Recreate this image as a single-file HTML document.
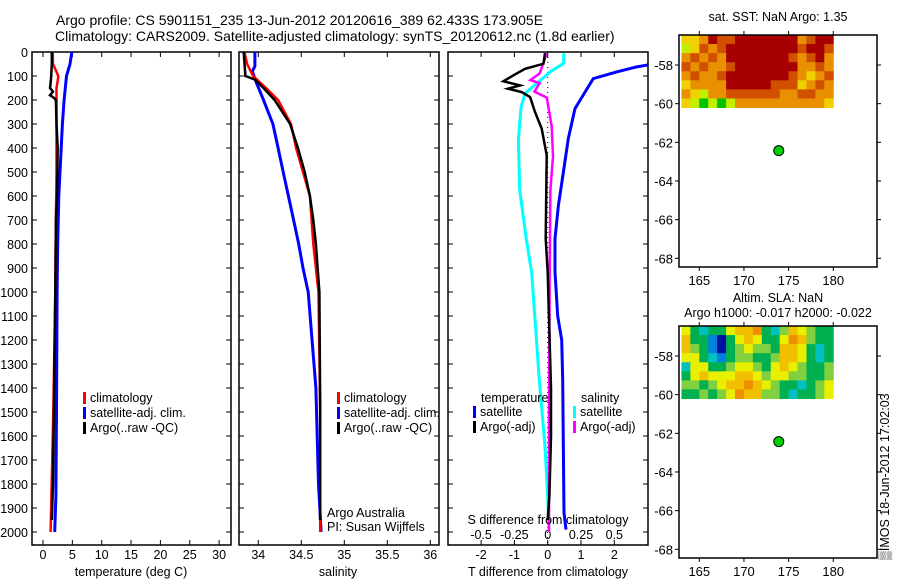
<!DOCTYPE html>
<html><head><meta charset="utf-8"><style>
body{margin:0;background:#fff;}
svg{display:block;font-family:"Liberation Sans",sans-serif;}
text{font-size:12.5px;fill:#000;}
</style></head><body>
<svg id="fig" width="900" height="580" viewBox="0 0 900 580" xmlns="http://www.w3.org/2000/svg">
<text x="56" y="25" style="font-size:14px">Argo profile: CS 5901151_235 13-Jun-2012 20120616_389 62.433S 173.905E</text>
<text x="55" y="41" style="font-size:14px">Climatology: CARS2009. Satellite-adjusted climatology: synTS_20120612.nc (1.8d earlier)</text>
<g id="g"></g>
<text transform="translate(889,560) rotate(-90)" style="font-size:12.5px">▒IMOS 18-Jun-2012 17:02:03</text>
</svg>
<script>
// ---- data ----
const tDepth=[0,50,100,120,150,170,200,300,500,700,1000,1500,2000];
const tClim=[1.65,1.7,2.6,2.5,2.3,2.3,2.3,2.3,2.3,2.2,2.1,1.75,1.3];
const tSatDepth=[0,50,100,200,300,400,600,800,1000,1500,1850,2000];
const tSat=[4.9,4.6,4.0,3.6,3.3,3.1,2.7,2.5,2.4,2.3,2.2,2.0];
const tArgoDepth=[0,50,100,130,150,165,180,190,200,300,400,600,700,1000,1400,1800,1950];
const tArgo=[1.5,1.5,1.4,1.3,1.2,1.7,1.2,1.8,2.2,2.3,2.5,2.4,2.2,2.1,1.9,1.7,1.5];
const sDepth=[0,50,100,150,200,300,400,500,600,800,1000,1500,2000];
const sClim=[33.84,33.87,33.94,34.09,34.23,34.38,34.44,34.52,34.60,34.64,34.70,34.72,34.72];
const sSatDepth=[0,60,80,130,200,300,400,500,600,700,800,900,1000,1400,1800,2000];
const sSat=[33.96,33.96,33.93,33.98,34.06,34.17,34.23,34.29,34.35,34.41,34.47,34.52,34.58,34.67,34.70,34.73];
const sArgoDepth=[0,100,115,150,200,300,400,500,600,700,800,1000,1500,1950];
const sArgo=[33.83,33.85,33.96,34.06,34.19,34.37,34.46,34.54,34.60,34.64,34.67,34.71,34.72,34.72];
const dtSatDepth=[20,55,62,83,111,167,236,361,500,639,778,917,1100,1200,1367,1920,1990];
const dtSat=[3.5,2.97,2.67,2.07,1.37,1.12,0.82,0.62,0.47,0.32,0.22,0.22,0.3,0.42,0.45,0.49,0.55];
const dtArgoDepth=[5,49,70,97,122,139,153,167,188,250,319,430,778,920,1400,1600,1850,1950];
const dtArgo=[-0.08,-0.13,-0.68,-1.03,-1.33,-0.83,-1.19,-0.78,-0.53,-0.38,-0.18,-0.03,-0.06,0,0.1,0.1,0.05,0.0];
const dsSatDepth=[5,47,82,130,172,228,367,575,783,920,1367,1644,1853,1990];
const dsSat=[0.12,0.12,0.02,-0.08,-0.17,-0.2,-0.22,-0.21,-0.16,-0.12,-0.063,-0.02,0,0.01];
const dsArgoDepth=[5,89,117,130,165,190,310,435,575,920,1500,2000];
const dsArgo=[-0.007,-0.06,-0.13,-0.06,-0.1,-0.007,0.03,0.04,0.02,0.015,0.01,0.01];
const depthTicks=[0,100,200,300,400,500,600,700,800,900,1000,1100,1200,1300,1400,1500,1600,1700,1800,1900,2000];
const tempTicks=[0,5,10,15,20,25,30];
const salTicks=[34,34.5,35,35.5,36];
const salTickLabels=["34","34.5","35","35.5","36"];
const dtTicks=[-2,-1,0,1,2];
const dsTicks=[-0.5,-0.25,0,0.25,0.5];
const dsTickLabels=["-0.5","-0.25","0","0.25","0.5"];
const lonTicks=[165,170,175,180];
const latTicks=[-58,-60,-62,-64,-66,-68];
const argoLon=173.9, argoLat=-62.43;
const sstGrid=[
[2,2,3,5,4,4,5,5,5,5,5,5,5,3,4,5,5],
[1,2,4,3,4,5,5,5,5,5,5,5,5,4,5,5,4],
[3,4,3,4,3,5,5,5,5,5,5,5,4,3,4,5,3],
[4,3,4,3,3,4,5,5,5,5,5,5,5,3,3,4,3],
[3,4,3,3,4,5,5,5,5,5,5,5,4,3,2,3,4],
[2,3,3,3,3,5,5,5,5,5,4,4,4,2,3,4,3],
[3,2,1,3,3,4,4,4,4,4,4,3,3,4,4,3,3],
[2,1,0,1,0,1,3,3,3,3,3,3,3,3,3,3,2]];
const slaGrid=[
[5,3,2,3,3,5,6,6,7,3,2,4,6,5,4,3,3],
[6,3,3,1,0,3,5,6,5,3,3,5,7,6,4,3,3],
[6,4,3,1,0,3,4,5,4,4,3,6,6,5,3,2,3],
[5,5,3,2,1,3,4,4,3,3,4,6,6,5,3,2,3],
[2,5,5,3,3,4,5,5,4,3,5,6,5,4,3,3,4],
[3,5,6,5,5,5,6,6,5,4,5,5,4,4,3,3,4],
[4,4,3,4,5,6,6,7,6,5,4,3,3,2,3,4,5],
[3,3,4,3,4,5,7,6,6,4,4,3,2,3,3,4,5]];
const sstColors=["#00c000","#c0f000","#f0d000","#e89000","#d05000","#a80000"];
const slaColors=["#0010a0","#0080e0","#00c0c0","#00b050","#80d040","#e8f000","#f0c000","#f09000"];

// ---- drawing ----
const NS="http://www.w3.org/2000/svg";
const G=document.getElementById('g');
function el(tag,attrs,parent,txt){const e=document.createElementNS(NS,tag);for(const k in attrs)e.setAttribute(k,attrs[k]);if(txt!==undefined)e.textContent=txt;(parent||G).appendChild(e);return e;}
const yD=d=>52+d*0.24;
const xT=v=>43+v*5.87;
const xS=v=>258.3+(v-34)*86;
const xDT=v=>547.7+v*33.3;
const xDS=v=>547.7+v*133.2;
const TOP=52,BOT=545;

function panel(x0,x1,name){
  const r=el('rect',{x:x0,y:TOP,width:x1-x0,height:BOT-TOP,fill:'none',stroke:'#000','stroke-width':1.5});
  
  
  depthTicks.forEach(d=>{el('line',{x1:x0,x2:x0+5,y1:yD(d),y2:yD(d),stroke:'#000'});el('line',{x1:x1,x2:x1-5,y1:yD(d),y2:yD(d),stroke:'#000'});});
}
function clipFor(x0,x1,id){const c=el('clipPath',{id:id});el('rect',{x:x0,y:TOP,width:x1-x0,height:BOT-TOP},c);}
function line(depths,vals,xf,color,name,clip,w){
  let pts=depths.map((d,i)=>xf(vals[i]).toFixed(1)+','+yD(d).toFixed(1)).join(' ');
  const p=el('polyline',{points:pts,fill:'none',stroke:color,'stroke-width':w||2.5,'clip-path':'url(#'+clip+')'});
  
  
}
function legend(x,y,items,prefix){
  items.forEach((it,i)=>{
    el('rect',{x:x,y:y+i*15-10,width:3,height:12,fill:it[1]});
    const t=el('text',{x:x+7,y:y+i*15},G,it[0]);
    
    
  });
}

// Panel 1: temperature
clipFor(32,231,'c1');panel(32,231,'temperature-plot-frame');
depthTicks.forEach(d=>{const t=el('text',{x:28,y:yD(d)+5,'text-anchor':'end'},G,String(d));});
tempTicks.forEach(v=>{el('line',{x1:xT(v),x2:xT(v),y1:TOP,y2:TOP+5,stroke:'#000'});el('line',{x1:xT(v),x2:xT(v),y1:BOT,y2:BOT-5,stroke:'#000'});const t=el('text',{x:xT(v),y:559,'text-anchor':'middle'},G,String(v));});
line(tSatDepth,tSat,xT,'#0000ff','temp-satellite-line','c1',3);
line(tDepth,tClim,xT,'#ff0000','temp-climatology-line','c1');
line(tArgoDepth,tArgo,xT,'#000','temp-argo-line','c1');
legend(83,402,[['climatology','#ff0000'],['satellite-adj. clim.','#0000ff'],['Argo(..raw -QC)','#000']],'temp-legend-entry');
el('text',{x:131,y:576,'text-anchor':'middle',},G,'temperature (deg C)');

// Panel 2: salinity
clipFor(239,439,'c2');panel(239,439,'salinity-plot-frame');
salTicks.forEach((v,i)=>{el('line',{x1:xS(v),x2:xS(v),y1:TOP,y2:TOP+5,stroke:'#000'});el('line',{x1:xS(v),x2:xS(v),y1:BOT,y2:BOT-5,stroke:'#000'});const t=el('text',{x:xS(v),y:559,'text-anchor':'middle'},G,salTickLabels[i]);});
line(sSatDepth,sSat,xS,'#0000ff','sal-satellite-line','c2',3);
line(sDepth,sClim,xS,'#ff0000','sal-climatology-line','c2');
line(sArgoDepth,sArgo,xS,'#000','sal-argo-line','c2');
legend(337,402,[['climatology','#ff0000'],['satellite-adj. clim.','#0000ff'],['Argo(..raw -QC)','#000']],'sal-legend-entry');
el('text',{x:327,y:517,},G,'Argo Australia');
el('text',{x:327,y:531,},G,'PI: Susan Wijffels');
el('text',{x:338,y:576,'text-anchor':'middle',},G,'salinity');

// Panel 3: differences
clipFor(448,648,'c3');panel(448,648,'difference-plot-frame');
dtTicks.forEach(v=>{el('line',{x1:xDT(v),x2:xDT(v),y1:TOP,y2:TOP+5,stroke:'#000'});el('line',{x1:xDT(v),x2:xDT(v),y1:BOT,y2:BOT-5,stroke:'#000'});const t=el('text',{x:xDT(v),y:559,'text-anchor':'middle'},G,String(v));});
dsTicks.forEach((v,i)=>{const t=el('text',{x:xDS(v),y:539,'text-anchor':'middle'},G,dsTickLabels[i]);});
el('line',{x1:xDT(0),x2:xDT(0),y1:TOP,y2:BOT,stroke:'#000','stroke-dasharray':'1,4'});
line(dtSatDepth,dtSat,xDT,'#0000ff','tdiff-satellite-line','c3',3);
line(dsSatDepth,dsSat,xDS,'#00ffff','sdiff-satellite-line','c3',3);
line(dsArgoDepth,dsArgo,xDS,'#ff00ff','sdiff-argo-line','c3');
line(dtArgoDepth,dtArgo,xDT,'#000','tdiff-argo-line','c3');
el('text',{x:481,y:402,},G,'temperature');
el('text',{x:581,y:402,},G,'salinity');
legend(473,416,[['satellite','#0000ff'],['Argo(-adj)','#000']],'tdiff-legend-entry');
legend(573,416,[['satellite','#00ffff'],['Argo(-adj)','#ff00ff']],'sdiff-legend-entry');
el('text',{x:548,y:524,'text-anchor':'middle',},G,'S difference from climatology');
el('text',{x:548,y:576,'text-anchor':'middle',},G,'T difference from climatology');

// Maps
function map(y0,name,grid,colors,titles,titleY,showX){
  const x0=679,x1=877,y1=y0+232;
  const lx=v=>699.3+(v-165)*8.93;
  const ly=v=>y0+30+(-58-v)*19.33;
  const rows=grid.length,cols=grid[0].length;
  const gx0=lx(163),gx1=lx(180),gy0=y0,gy1=ly(-60.2);
  const cw=(gx1-gx0)/cols,ch=(gy1-gy0)/rows;
  grid.forEach((r,i)=>r.forEach((v,j)=>{el('rect',{x:gx0+j*cw,y:gy0+i*ch,width:cw+0.5,height:ch+0.5,fill:colors[v]});}));
  const fr=el('rect',{x:x0,y:y0,width:x1-x0,height:y1-y0,fill:'none',stroke:'#000','stroke-width':1.5});
  
  
  lonTicks.forEach(v=>{el('line',{x1:lx(v),x2:lx(v),y1:y0,y2:y0-4,stroke:'#000'});el('line',{x1:lx(v),x2:lx(v),y1:y1,y2:y1+4,stroke:'#000'});
    if(showX||true){const t=el('text',{x:lx(v),y:y1+18,'text-anchor':'middle','style':'font-size:13px'},G,String(v));}});
  latTicks.forEach(v=>{el('line',{x1:x0,x2:x0-4,y1:ly(v),y2:ly(v),stroke:'#000'});el('line',{x1:x1,x2:x1+4,y1:ly(v),y2:ly(v),stroke:'#000'});const t=el('text',{x:673,y:ly(v)+5,'text-anchor':'end','style':'font-size:13px'},G,String(v));});
  const c=el('circle',{cx:lx(argoLon),cy:ly(argoLat),r:5,fill:'#00d000',stroke:'#000','stroke-width':1});
  
  
  titles.forEach((s,i)=>{const t=el('text',{x:778,y:titleY+i*15,'text-anchor':'middle'},G,s);});
}
map(35,'sst-map-frame',sstGrid,sstColors,['sat. SST: NaN Argo: 1.35'],21,false);
map(326,'sla-map-frame',slaGrid,slaColors,['Altim. SLA: NaN','Argo h1000: -0.017 h2000: -0.022'],302,true);
</script>
</body></html>
